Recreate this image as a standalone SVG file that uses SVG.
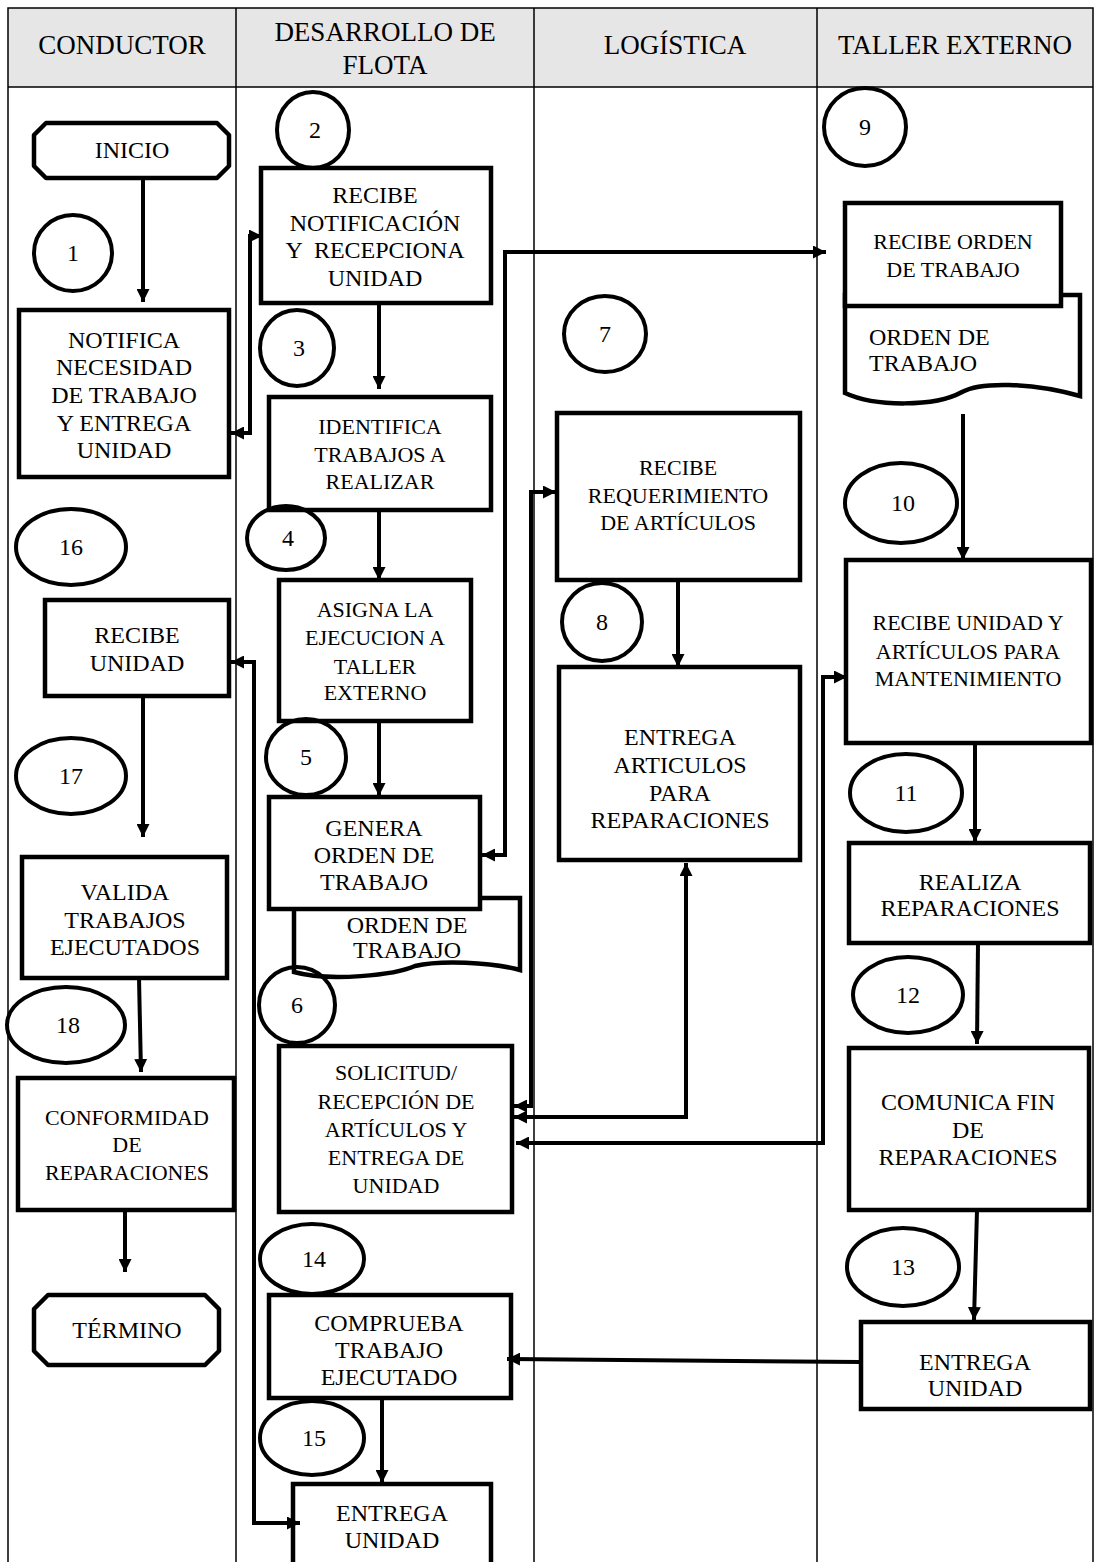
<svg xmlns="http://www.w3.org/2000/svg" width="1097" height="1562" viewBox="0 0 1097 1562">
  <style>
    .grid { fill: none; stroke: #000; stroke-width: 1.5; }
    .box { fill: #fff; stroke: #000; stroke-width: 4.5; stroke-linejoin: miter; }
    .term { fill: #fff; stroke: #000; stroke-width: 4.5; stroke-linejoin: round; }
    .num { fill: none; stroke: #000; stroke-width: 4; }
    .conn { fill: none; stroke: #000; stroke-width: 4; stroke-linejoin: miter; }
    .arr { marker-end: url(#ah); }
    .arr2 { marker-start: url(#ah); marker-end: url(#ah); }
    text { fill: #000; text-anchor: middle; }
    .t { font-size: 24px; }
    .d { font-size: 22px; }
    .h { font-size: 27px; }
    .n { font-size: 24px; }
  </style>
  <defs>
    <marker id="ah" viewBox="0 0 13 13" refX="13" refY="6.5" markerWidth="13" markerHeight="13" markerUnits="userSpaceOnUse" orient="auto-start-reverse">
      <path d="M0,0 L13,6.5 L0,13 Z" fill="#000"/>
    </marker>
  </defs>

  <g font-family="'Liberation Serif', 'DejaVu Serif', 'Times New Roman', serif">
  <!-- swimlane table -->
  <g id="lanes">
    <rect x="8" y="8" width="1085" height="79" fill="#e7e6e6"/>
    <path class="grid" d="M8,1562 V8 H1093 V1562 M8,87 H1093 M236,8 V1562 M534,8 V1562 M817,8 V1562"/>
    <text class="h" x="122" y="54">CONDUCTOR</text>
    <text class="h" x="385" y="41">DESARROLLO DE</text>
    <text class="h" x="385" y="74">FLOTA</text>
    <text class="h" x="675" y="54">LOGÍSTICA</text>
    <text class="h" x="955" y="54">TALLER EXTERNO</text>
  </g>

  <!-- CONDUCTOR lane -->
  <g id="inicio">
    <polygon class="term" points="46,123 217,123 229,135 229,166 217,178 46,178 34,166 34,135"/>
    <text class="t" x="132" y="158">INICIO</text>
  </g>
  <g id="notifica">
    <rect class="box" x="19" y="310" width="210" height="167"/>
    <text class="t" x="124"><tspan x="124" y="348">NOTIFICA</tspan><tspan x="124" y="375">NECESIDAD</tspan><tspan x="124" y="403">DE TRABAJO</tspan><tspan x="124" y="431">Y ENTREGA</tspan><tspan x="124" y="458">UNIDAD</tspan></text>
  </g>
  <g id="recibe-unidad-conductor">
    <rect class="box" x="45" y="600" width="184" height="96"/>
    <text class="t"><tspan x="137" y="643">RECIBE</tspan><tspan x="137" y="671">UNIDAD</tspan></text>
  </g>
  <g id="valida">
    <rect class="box" x="22" y="857" width="205" height="121"/>
    <text class="t"><tspan x="125" y="900">VALIDA</tspan><tspan x="125" y="928">TRABAJOS</tspan><tspan x="125" y="955">EJECUTADOS</tspan></text>
  </g>
  <g id="conformidad">
    <rect class="box" x="18" y="1078" width="216" height="132"/>
    <text class="d"><tspan x="127" y="1125">CONFORMIDAD</tspan><tspan x="127" y="1152">DE</tspan><tspan x="127" y="1180">REPARACIONES</tspan></text>
  </g>
  <g id="termino">
    <polygon class="term" points="48,1295 205,1295 219,1309 219,1351 205,1365 48,1365 34,1351 34,1309"/>
    <text class="t" x="127" y="1338">TÉRMINO</text>
  </g>

  <!-- DESARROLLO DE FLOTA lane -->
  <g id="recibe-notificacion">
    <rect class="box" x="261" y="168" width="230" height="135"/>
    <text class="t" xml:space="preserve"><tspan x="375" y="203">RECIBE</tspan><tspan x="375" y="231">NOTIFICACIÓN</tspan><tspan x="375" y="258">Y  RECEPCIONA</tspan><tspan x="375" y="286">UNIDAD</tspan></text>
  </g>
  <g id="identifica">
    <rect class="box" x="269" y="397" width="222" height="113"/>
    <text class="d"><tspan x="380" y="434">IDENTIFICA</tspan><tspan x="380" y="462">TRABAJOS A</tspan><tspan x="380" y="489">REALIZAR</tspan></text>
  </g>
  <g id="asigna">
    <rect class="box" x="279" y="580" width="192" height="141"/>
    <text class="d"><tspan x="375" y="617">ASIGNA LA</tspan><tspan x="375" y="645">EJECUCION A</tspan><tspan x="375" y="674">TALLER</tspan><tspan x="375" y="700">EXTERNO</tspan></text>
  </g>
  <g id="genera">
    <path class="box" d="M294,898 H520 V970 C490,962 440,960 415,966 C395,975 330,982 294,972 Z"/>
    <text class="t"><tspan x="407" y="933">ORDEN DE</tspan><tspan x="407" y="958">TRABAJO</tspan></text>
    <rect class="box" x="269" y="797" width="211" height="112"/>
    <text class="t"><tspan x="374" y="836">GENERA</tspan><tspan x="374" y="863">ORDEN DE</tspan><tspan x="374" y="890">TRABAJO</tspan></text>
  </g>
  <g id="solicitud">
    <rect class="box" x="279" y="1046" width="233" height="166"/>
    <text class="d"><tspan x="396" y="1080">SOLICITUD/</tspan><tspan x="396" y="1109">RECEPCIÓN DE</tspan><tspan x="396" y="1137">ARTÍCULOS Y</tspan><tspan x="396" y="1165">ENTREGA DE</tspan><tspan x="396" y="1193">UNIDAD</tspan></text>
  </g>
  <g id="comprueba">
    <rect class="box" x="269" y="1295" width="242" height="103"/>
    <text class="t"><tspan x="389" y="1331">COMPRUEBA</tspan><tspan x="389" y="1358">TRABAJO</tspan><tspan x="389" y="1385">EJECUTADO</tspan></text>
  </g>
  <g id="entrega-unidad-flota">
    <rect class="box" x="293" y="1484" width="198" height="84"/>
    <text class="t"><tspan x="392" y="1521">ENTREGA</tspan><tspan x="392" y="1548">UNIDAD</tspan></text>
  </g>

  <!-- LOGÍSTICA lane -->
  <g id="recibe-requerimiento">
    <rect class="box" x="557" y="413" width="243" height="167"/>
    <text class="d"><tspan x="678" y="475">RECIBE</tspan><tspan x="678" y="503">REQUERIMIENTO</tspan><tspan x="678" y="530">DE ARTÍCULOS</tspan></text>
  </g>
  <g id="entrega-articulos">
    <rect class="box" x="559" y="667" width="241" height="193"/>
    <text class="t"><tspan x="680" y="745">ENTREGA</tspan><tspan x="680" y="773">ARTICULOS</tspan><tspan x="680" y="801">PARA</tspan><tspan x="680" y="828">REPARACIONES</tspan></text>
  </g>

  <!-- TALLER EXTERNO lane -->
  <g id="recibe-orden">
    <path class="box" d="M845,295 H1080 V396 C1030,382 980,382 962,392 C935,407 875,407 845,393 Z"/>
    <text class="t" style="text-anchor:start"><tspan x="869" y="345">ORDEN DE</tspan><tspan x="869" y="371">TRABAJO</tspan></text>
    <rect class="box" x="845" y="203" width="216" height="103"/>
    <text class="d"><tspan x="953" y="249">RECIBE ORDEN</tspan><tspan x="953" y="277">DE TRABAJO</tspan></text>
  </g>
  <g id="recibe-unidad-articulos">
    <rect class="box" x="846" y="560" width="245" height="183"/>
    <text class="d"><tspan x="968" y="630">RECIBE UNIDAD Y</tspan><tspan x="968" y="659">ARTÍCULOS PARA</tspan><tspan x="968" y="686">MANTENIMIENTO</tspan></text>
  </g>
  <g id="realiza">
    <rect class="box" x="849" y="843" width="241" height="100"/>
    <text class="t"><tspan x="970" y="890">REALIZA</tspan><tspan x="970" y="916">REPARACIONES</tspan></text>
  </g>
  <g id="comunica">
    <rect class="box" x="849" y="1048" width="240" height="162"/>
    <text class="t"><tspan x="968" y="1110">COMUNICA FIN</tspan><tspan x="968" y="1138">DE</tspan><tspan x="968" y="1165">REPARACIONES</tspan></text>
  </g>
  <g id="entrega-unidad-taller">
    <rect class="box" x="861" y="1322" width="229" height="87"/>
    <text class="t"><tspan x="975" y="1370">ENTREGA</tspan><tspan x="975" y="1396">UNIDAD</tspan></text>
  </g>

  <!-- connectors -->
  <g id="connectors">
    <path class="conn arr" d="M143,178 V302"/>
    <path class="conn arr2" d="M231,433 H250 V236 H262"/>
    <path class="conn arr" d="M379,303 V389"/>
    <path class="conn arr" d="M379,510 V580"/>
    <path class="conn arr" d="M379,721 V796"/>
    <path class="conn arr2" d="M482,855 H505 V252 H826"/>
    <path class="conn arr" d="M963,414 V560"/>
    <path class="conn arr" d="M678,580 V667"/>
    <path class="conn arr2" d="M556,492 H531 V1106 H514"/>
    <path class="conn arr2" d="M686,863 V1117 H514"/>
    <path class="conn arr2" d="M516,1143 H823 V677 H847"/>
    <path class="conn arr" d="M975,743 V842"/>
    <path class="conn arr" d="M978,943 L977,1044"/>
    <path class="conn arr" d="M977,1210 L974,1320"/>
    <path class="conn arr" d="M861,1362 L507,1359"/>
    <path class="conn arr" d="M382,1400 V1483"/>
    <path class="conn arr2" d="M231,662 H254 V1523 H300"/>
    <path class="conn arr" d="M143,696 V837"/>
    <path class="conn arr" d="M139,978 L141,1072"/>
    <path class="conn arr" d="M125,1210 V1272"/>
  </g>

  <!-- step numbers -->
  <g id="steps">
    <g id="s1"><ellipse class="num" cx="73" cy="253" rx="39" ry="38"/><text class="n" x="73" y="261">1</text></g>
    <g id="s2"><ellipse class="num" cx="313" cy="130" rx="36" ry="38"/><text class="n" x="315" y="138">2</text></g>
    <g id="s3"><ellipse class="num" cx="297" cy="348" rx="37" ry="38"/><text class="n" x="299" y="356">3</text></g>
    <g id="s4"><ellipse class="num" cx="286" cy="538" rx="39" ry="32"/><text class="n" x="288" y="546">4</text></g>
    <g id="s5"><ellipse class="num" cx="306" cy="757" rx="40" ry="38"/><text class="n" x="306" y="765">5</text></g>
    <g id="s6"><ellipse class="num" cx="297" cy="1005" rx="38" ry="38"/><text class="n" x="297" y="1013">6</text></g>
    <g id="s7"><ellipse class="num" cx="605" cy="334" rx="41" ry="38"/><text class="n" x="605" y="342">7</text></g>
    <g id="s8"><ellipse class="num" cx="602" cy="622" rx="40" ry="39"/><text class="n" x="602" y="630">8</text></g>
    <g id="s9"><ellipse class="num" cx="865" cy="127" rx="41" ry="39"/><text class="n" x="865" y="135">9</text></g>
    <g id="s10"><ellipse class="num" cx="901" cy="503" rx="56" ry="40"/><text class="n" x="903" y="511">10</text></g>
    <g id="s11"><ellipse class="num" cx="906" cy="793" rx="56" ry="39"/><text class="n" x="906" y="801">11</text></g>
    <g id="s12"><ellipse class="num" cx="908" cy="995" rx="55" ry="38"/><text class="n" x="908" y="1003">12</text></g>
    <g id="s13"><ellipse class="num" cx="903" cy="1267" rx="56" ry="39"/><text class="n" x="903" y="1275">13</text></g>
    <g id="s14"><ellipse class="num" cx="312" cy="1259" rx="52" ry="35"/><text class="n" x="314" y="1267">14</text></g>
    <g id="s15"><ellipse class="num" cx="312" cy="1438" rx="52" ry="37"/><text class="n" x="314" y="1446">15</text></g>
    <g id="s16"><ellipse class="num" cx="71" cy="547" rx="55" ry="38"/><text class="n" x="71" y="555">16</text></g>
    <g id="s17"><ellipse class="num" cx="71" cy="776" rx="55" ry="38"/><text class="n" x="71" y="784">17</text></g>
    <g id="s18"><ellipse class="num" cx="66" cy="1025" rx="59" ry="38"/><text class="n" x="68" y="1033">18</text></g>
  </g>
  </g>
</svg>
